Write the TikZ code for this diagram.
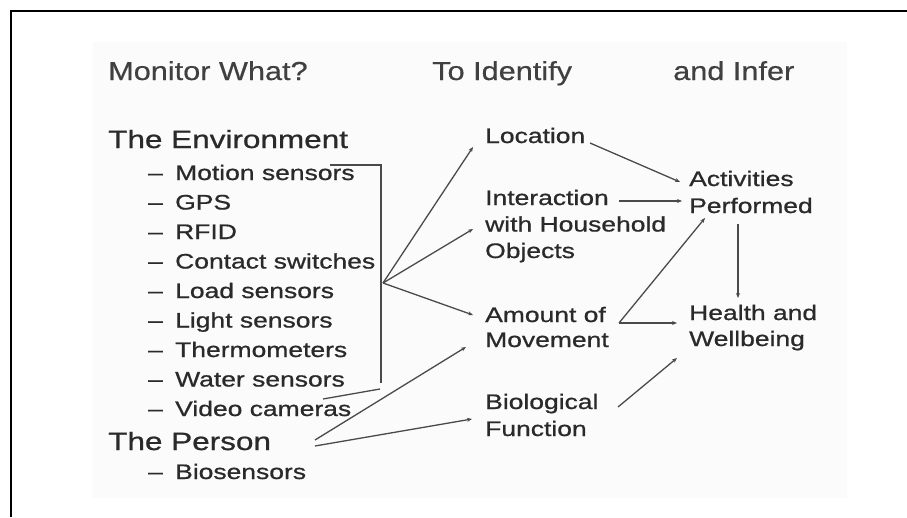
\documentclass[tikz,border=0pt]{standalone}
\usepackage{fontspec}
\setmainfont{Liberation Sans}[FakeStretch=1.26,FakeBold=0.8]
\newfontfamily\hdrfont{Liberation Sans}[FakeStretch=1.18,FakeBold=0.5]
\usetikzlibrary{arrows.meta}
\definecolor{txt}{HTML}{2A2A2A}
\definecolor{hdr}{HTML}{404040}
\definecolor{ln}{HTML}{4A4A4A}
\definecolor{bgpanel}{HTML}{FBFBFB}
\begin{document}
\begin{tikzpicture}[x=1pt,y=-1pt,
  lbl/.style={anchor=base west, inner sep=0pt, text=txt, font=\fontsize{21}{25}\selectfont},
  big/.style={lbl, font=\fontsize{25}{30}\selectfont},
  hdrtext/.style={anchor=base west, inner sep=0pt, text=hdr, font=\hdrfont\fontsize{26}{31}\selectfont},
  conn/.style={draw=ln, line width=1.3pt, -{Stealth[length=5pt,width=4pt]}},
  plain/.style={draw=ln, line width=1.3pt},
  frameline/.style={line width=2pt, draw=black}]
\useasboundingbox (0,0) rectangle (907,517);
\fill[bgpanel] (93,42) rectangle (847,498);
\draw[frameline] (11,517) -- (11,11) -- (907,11);
% headers
\node[hdrtext] (h1) at (108,80) {Monitor What?};
\node[hdrtext] (h2) at (432,80) {To Identify};
\node[hdrtext] (h3) at (673,80) {and Infer};
% column 1
\node[big] (env) at (108,148) {The Environment};
\foreach \t [count=\i] in {Motion sensors, GPS, RFID, Contact switches, Load sensors, Light sensors, Thermometers, Water sensors, Video cameras}
  \node[lbl] (e\i) at (148,{180+29.5*(\i-1)}) {\makebox[27pt][l]{–}\t};
\node[big] (person) at (108,450) {The Person};
\node[lbl] (bios) at (148,479) {\makebox[27pt][l]{–}Biosensors};
% column 2
\node[lbl] (loc) at (485,143) {Location};
\node[lbl] (int1) at (485,205) {Interaction};
\node[lbl] (int2) at (485,231.5) {with Household};
\node[lbl] (int3) at (485,258) {Objects};
\node[lbl] (amt1) at (485,322) {Amount of};
\node[lbl] (amt2) at (485,347) {Movement};
\node[lbl] (bio1) at (485,409) {Biological};
\node[lbl] (bio2) at (485,436) {Function};
% column 3
\node[lbl] (act1) at (689,186) {Activities};
\node[lbl] (act2) at (689,213) {Performed};
\node[lbl] (hw1) at (689,320) {Health and};
\node[lbl] (hw2) at (689,346) {Wellbeing};
% bracket
\coordinate (btl) at (330,165);
\coordinate (btr) at (381,165);
\coordinate (bbr) at (381,383);
\coordinate (hub) at (383,283);
\coordinate (bs1) at (380,389);
\coordinate (bs2) at (323,399);
\draw[plain] (btl) -- (btr) -- (bbr);
\draw[plain] (bs1) -- (bs2);
% connectors from environment
\draw[conn] (hub) -- ([xshift=-12pt,yshift=-4pt]loc.base west);
\draw[conn] (hub) -- ([xshift=-12pt,yshift=2.5pt]int2.base west);
\draw[conn] (hub) -- ([xshift=-12pt,yshift=7pt]amt1.base west);
% connectors from person
\draw[conn] ([xshift=207pt,yshift=10pt]person.base west) -- ([xshift=-19pt]amt2.base west);
\draw[conn] ([xshift=207pt,yshift=4pt]person.base west) -- ([xshift=-13pt,yshift=-10pt]bio1.base west);
% column 2 to 3
\draw[conn] ([xshift=105pt]loc.base west) -- ([xshift=-9pt,yshift=4pt]act1.base west);
\draw[conn] ([xshift=134pt,yshift=4pt]int1.base west) -- ([xshift=-7pt,yshift=12pt]act2.base west);
\draw[conn] ([xshift=134pt,yshift=-1pt]amt1.base west) -- ([xshift=16pt,yshift=-5pt]act2.base west);
\draw[conn] ([xshift=134pt,yshift=-1pt]amt1.base west) -- ([xshift=-12pt,yshift=-3pt]hw1.base west);
\draw[conn] ([xshift=49pt,yshift=-11pt]act2.base west) -- ([xshift=49pt,yshift=22pt]hw1.base west);
\draw[conn] ([xshift=133pt,yshift=2pt]bio1.base west) -- ([xshift=-12pt,yshift=-12pt]hw2.base west);
\end{tikzpicture}
\end{document}
